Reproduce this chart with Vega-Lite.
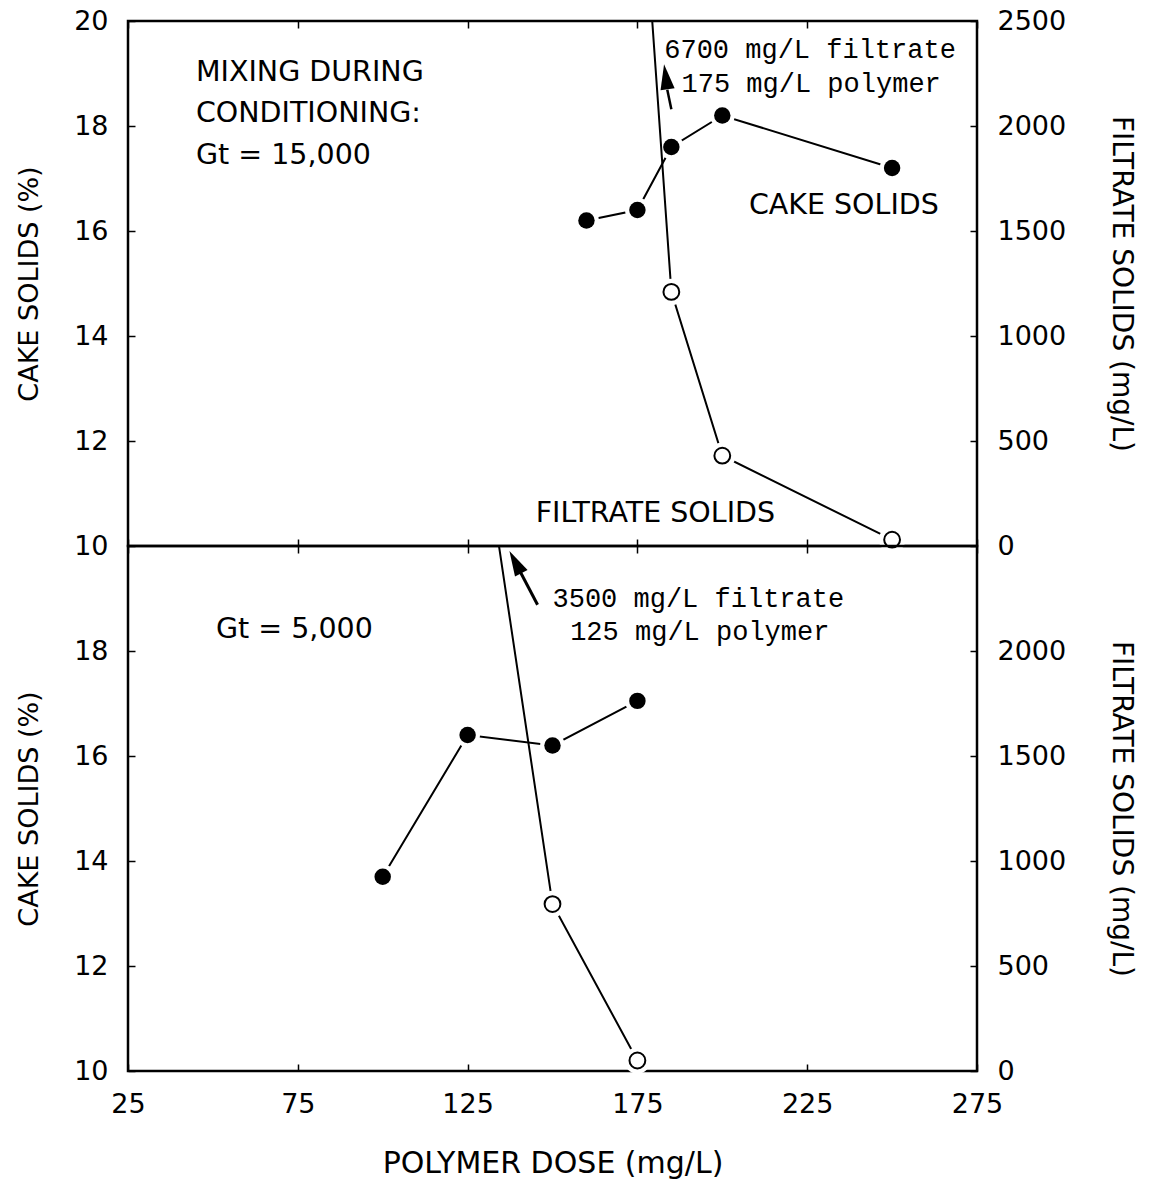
{
  "$schema": "https://vega.github.io/schema/vega-lite/v6.json",
  "padding": {"left": 14, "top": 5, "right": 5, "bottom": 0},
  "spacing": 0,
  "bounds": "flush",
  "datasets": {
    "cakeTop": [
      {"dose": 160, "cake": 16.2},
      {"dose": 175, "cake": 16.4},
      {"dose": 185, "cake": 17.6},
      {"dose": 200, "cake": 18.2},
      {"dose": 250, "cake": 17.2}
    ],
    "filtTop": [
      {"dose": 175, "filt": 3500, "onScale": false},
      {"dose": 185, "filt": 1210, "onScale": true},
      {"dose": 200, "filt": 430, "onScale": true},
      {"dose": 250, "filt": 30, "onScale": true}
    ],
    "cakeBot": [
      {"dose": 100, "cake": 13.7},
      {"dose": 125, "cake": 16.4},
      {"dose": 150, "cake": 16.2},
      {"dose": 175, "cake": 17.05}
    ],
    "filtBot": [
      {"dose": 125, "filt": 3500, "onScale": false},
      {"dose": 150, "filt": 795, "onScale": true},
      {"dose": 175, "filt": 50, "onScale": true}
    ],
    "noteTopLeft": [
      {"label": "MIXING DURING", "dose": 45, "cake": 19.03},
      {"label": "CONDITIONING:", "dose": 45, "cake": 18.25},
      {"label": "Gt = 15,000", "dose": 45, "cake": 17.45}
    ],
    "noteTopCenter": [
      {"label": "CAKE SOLIDS", "dose": 235.8, "cake": 16.5},
      {"label": "FILTRATE SOLIDS", "dose": 180.3, "cake": 10.63}
    ],
    "monoTop": [
      {"label": "6700 mg/L filtrate", "dose": 182.9, "cake": 19.45},
      {"label": "175 mg/L polymer", "dose": 188, "cake": 18.8}
    ],
    "shaftTop": [{"dose": 185, "cake": 18.32, "dose2": 183.8, "cake2": 18.69}],
    "headTop": [{"dose": 183.5, "cake": 18.88}],
    "noteBotLeft": [{"label": "Gt = 5,000", "dose": 50.9, "cake": 18.42}],
    "monoBot": [
      {"label": "3500 mg/L filtrate", "dose": 150, "cake": 19.0},
      {"label": "125 mg/L polymer", "dose": 155.2, "cake": 18.36}
    ],
    "shaftBot": [{"dose": 145.6, "cake": 18.88, "dose2": 140.5, "cake2": 19.51}],
    "headBot": [{"dose": 139.5, "cake": 19.64}]
  },
  "vconcat": [
    {
      "width": 849,
      "height": 525,
      "layer": [
        {
          "data": {"name": "cakeTop"},
          "encoding": {
            "x": {"field": "dose", "type": "quantitative", "scale": {"domain": [25, 275], "nice": false, "zero": false},
                  "axis": {"orient": "bottom", "values": [25, 75, 125, 175, 225, 275], "labels": false, "title": null}},
            "y": {"field": "cake", "type": "quantitative", "scale": {"domain": [10, 20], "nice": false, "zero": false},
                  "axis": {"orient": "left", "values": [10, 12, 14, 16, 18, 20], "title": "CAKE SOLIDS (%)", "titleFontSize": 27, "titlePadding": 30}}
          },
          "layer": [
            {"mark": {"type": "line", "color": "black", "strokeWidth": 2}},
            {"mark": {"type": "point", "filled": true, "fill": "white", "stroke": null, "size": 615, "opacity": 1}},
            {"mark": {"type": "point", "filled": true, "fill": "black", "stroke": null, "size": 270, "opacity": 1}},
            {"data": {"name": "noteTopLeft"}, "mark": {"type": "text", "align": "left", "baseline": "middle", "fontSize": 28.5, "color": "black"}, "encoding": {"text": {"field": "label"}}},
            {"data": {"name": "noteTopCenter"}, "mark": {"type": "text", "align": "center", "baseline": "middle", "fontSize": 28.5, "color": "black"}, "encoding": {"text": {"field": "label"}}},
            {"data": {"name": "monoTop"}, "mark": {"type": "text", "align": "left", "baseline": "middle", "font": "Liberation Mono", "fontSize": 27, "color": "black"}, "encoding": {"text": {"field": "label"}}},
            {"data": {"name": "shaftTop"}, "mark": {"type": "rule", "color": "black", "strokeWidth": 2.5}, "encoding": {"x2": {"field": "dose2"}, "y2": {"field": "cake2"}}},
            {"data": {"name": "headTop"}, "mark": {"type": "point", "shape": "M0,-1L0.45,0.6L-0.45,0.6Z", "filled": true, "fill": "black", "stroke": null, "size": 1000, "angle": -8, "opacity": 1}}
          ]
        },
        {
          "data": {"name": "filtTop"},
          "encoding": {
            "x": {"field": "dose", "type": "quantitative", "scale": {"domain": [25, 275], "nice": false, "zero": false},
                  "axis": {"orient": "top", "values": [25, 75, 125, 175, 225, 275], "labels": false, "title": null}},
            "y": {"field": "filt", "type": "quantitative", "scale": {"domain": [0, 2500], "nice": false, "zero": false},
                  "axis": {"orient": "right", "values": [0, 500, 1000, 1500, 2000, 2500], "format": "d", "title": "FILTRATE SOLIDS (mg/L)", "titleFontSize": 28, "titlePadding": 41}}
          },
          "layer": [
            {"mark": {"type": "line", "color": "black", "strokeWidth": 2, "clip": true}},
            {"transform": [{"filter": "datum.onScale"}], "mark": {"type": "point", "filled": true, "fill": "white", "stroke": null, "size": 700, "opacity": 1}},
            {"transform": [{"filter": "datum.onScale"}], "mark": {"type": "point", "filled": true, "fill": "white", "stroke": "black", "strokeWidth": 2, "size": 250, "opacity": 1}}
          ]
        }
      ],
      "resolve": {"scale": {"y": "independent"}, "axis": {"x": "independent"}}
    },
    {
      "width": 849,
      "height": 525,
      "layer": [
        {
          "data": {"name": "cakeBot"},
          "encoding": {
            "x": {"field": "dose", "type": "quantitative", "scale": {"domain": [25, 275], "nice": false, "zero": false},
                  "axis": {"orient": "bottom", "values": [25, 75, 125, 175, 225, 275], "title": "POLYMER DOSE (mg/L)", "titleFontSize": 30, "titlePadding": 31}},
            "y": {"field": "cake", "type": "quantitative", "scale": {"domain": [10, 20], "nice": false, "zero": false},
                  "axis": {"orient": "left", "values": [10, 12, 14, 16, 18], "title": "CAKE SOLIDS (%)", "titleFontSize": 27, "titlePadding": 30}}
          },
          "layer": [
            {"mark": {"type": "line", "color": "black", "strokeWidth": 2}},
            {"mark": {"type": "point", "filled": true, "fill": "white", "stroke": null, "size": 615, "opacity": 1}},
            {"mark": {"type": "point", "filled": true, "fill": "black", "stroke": null, "size": 270, "opacity": 1}},
            {"data": {"name": "noteBotLeft"}, "mark": {"type": "text", "align": "left", "baseline": "middle", "fontSize": 28.5, "color": "black"}, "encoding": {"text": {"field": "label"}}},
            {"data": {"name": "monoBot"}, "mark": {"type": "text", "align": "left", "baseline": "middle", "font": "Liberation Mono", "fontSize": 27, "color": "black"}, "encoding": {"text": {"field": "label"}}},
            {"data": {"name": "shaftBot"}, "mark": {"type": "rule", "color": "black", "strokeWidth": 3}, "encoding": {"x2": {"field": "dose2"}, "y2": {"field": "cake2"}}},
            {"data": {"name": "headBot"}, "mark": {"type": "point", "shape": "M0,-1L0.45,0.6L-0.45,0.6Z", "filled": true, "fill": "black", "stroke": null, "size": 1000, "angle": -28, "opacity": 1}}
          ]
        },
        {
          "data": {"name": "filtBot"},
          "encoding": {
            "x": {"field": "dose", "type": "quantitative", "scale": {"domain": [25, 275], "nice": false, "zero": false},
                  "axis": {"orient": "top", "values": [25, 75, 125, 175, 225, 275], "labels": false, "title": null}},
            "y": {"field": "filt", "type": "quantitative", "scale": {"domain": [0, 2500], "nice": false, "zero": false},
                  "axis": {"orient": "right", "values": [0, 500, 1000, 1500, 2000], "format": "d", "title": "FILTRATE SOLIDS (mg/L)", "titleFontSize": 28, "titlePadding": 41}}
          },
          "layer": [
            {"mark": {"type": "line", "color": "black", "strokeWidth": 2, "clip": true}},
            {"transform": [{"filter": "datum.onScale"}], "mark": {"type": "point", "filled": true, "fill": "white", "stroke": null, "size": 700, "opacity": 1}},
            {"transform": [{"filter": "datum.onScale"}], "mark": {"type": "point", "filled": true, "fill": "white", "stroke": "black", "strokeWidth": 2, "size": 250, "opacity": 1}}
          ]
        }
      ],
      "resolve": {"scale": {"y": "independent"}, "axis": {"x": "independent"}}
    }
  ],
  "config": {
    "font": "DejaVu Sans",
    "background": "white",
    "view": {"stroke": "black", "strokeWidth": 2.5},
    "axis": {
      "domain": false,
      "grid": false,
      "ticks": true,
      "tickColor": "black",
      "tickSize": -7,
      "tickWidth": 1.5,
      "labelFont": "DejaVu Sans",
      "labelFontSize": 27,
      "labelColor": "black",
      "labelPadding": 27,
      "labelFlush": false,
      "labelOverlap": false,
      "titleFont": "DejaVu Sans",
      "titleFontWeight": "normal",
      "titleColor": "black"
    }
  }
}
